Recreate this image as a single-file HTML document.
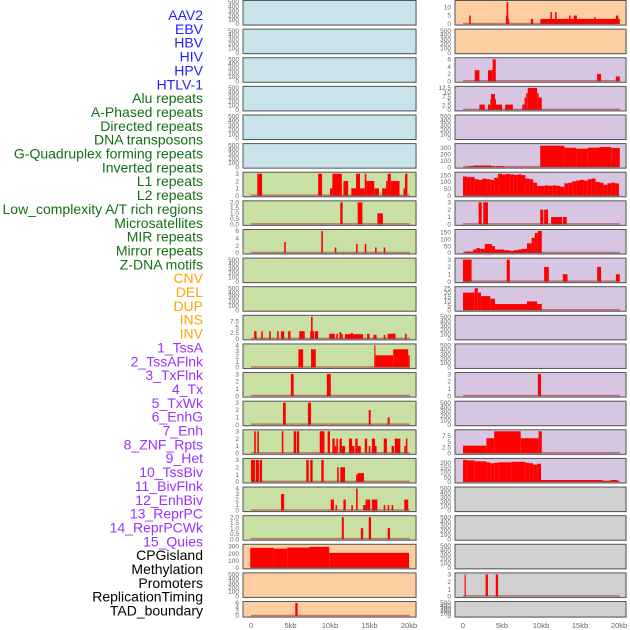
<!DOCTYPE html>
<html><head><meta charset="utf-8">
<style>
html,body{margin:0;padding:0;background:#fff;}
svg{display:block;font-family:"Liberation Sans",sans-serif;}
</style></head>
<body>
<svg id="chart" width="630" height="630" viewBox="0 0 630 630" xmlns="http://www.w3.org/2000/svg">
<g id="labels"></g>
<g id="panels"></g>
<g id="xaxes"></g>
</svg>
<script>
const rowLabels = ["AAV2","EBV","HBV","HIV","HPV","HTLV-1","Alu repeats","A-Phased repeats","Directed repeats","DNA transposons","G-Quadruplex forming repeats","Inverted repeats","L1 repeats","L2 repeats","Low_complexity A/T rich regions","Microsatellites","MIR repeats","Mirror repeats","Z-DNA motifs","CNV","DEL","DUP","INS","INV","1_TssA","2_TssAFlnk","3_TxFlnk","4_Tx","5_TxWk","6_EnhG","7_Enh","8_ZNF_Rpts","9_Het","10_TssBiv","11_BivFlnk","12_EnhBiv","13_ReprPC","14_ReprPCWk","15_Quies","CPGisland","Methylation","Promoters","ReplicationTiming","TAD_boundary"];
const labelGroups = [6,13,5,15,5];
const groupColors = ["#2020ff","#127012","#ffa500","#9b30ff","#000000"];
const xTickVals = [0,5,10,15,20];
const xTickLabels = ["0","5kb","10kb","15kb","20kb"];
const emptyTicks = [0,100,200,300,400,500];

// panel backgrounds per column
const col1Bg = ["b","b","b","b","b","b","g","g","g","g","g","g","g","g","g","g","g","g","g","o","o","o"];
const col2Bg = ["o","o","p","p","p","p","p","p","p","p","p","p","p","p","p","p","p","g2","g2","g2","g2","g2"];

// segments: [startKb, endKb, value]
const c1r6 = [[0.8,1.4,3],[8.5,9.0,3],[10,10.3,1],[10.3,11.5,3],[11.7,12.3,2],[12.7,13.3,1],[13.3,13.8,3],[13.8,14.4,1],[14.4,14.6,3],[14.6,15.6,2],[15.6,16.2,1],[16.6,17.1,1],[17.1,17.3,2],[17.3,17.7,3],[17.7,18.8,2],[19.3,19.5,1],[19.5,19.8,3]];
const c1r7 = [[11.3,11.6,2],[13.5,14.1,2],[16.0,16.7,1]];
const c1r8 = [[4.2,4.4,3],[8.9,9.1,6],[10.6,10.8,1.5],[13.3,13.5,2.5],[14.4,14.6,2.5],[15.7,15.9,1.5],[16.8,17.0,1.5]];
const c1r11 = [[0.4,0.7,3.3],[1.3,1.5,3.3],[2.3,2.5,3.3],[3.3,3.5,3.3],[3.8,4.2,3.3],[4.7,5.0,3.3],[6.1,6.8,3.3],[7.5,7.6,3.3],[7.6,7.8,9.5],[7.8,8.0,3.3],[8.1,8.5,3.3],[9.9,10.6,2.2],[10.8,11.0,2.2],[11.2,11.4,3],[11.4,11.6,2.2],[11.9,12.6,2],[12.6,12.9,2.5],[12.9,14.2,2],[14.7,15.0,2.2],[15.5,15.9,1.7],[16.8,17.0,1.7],[17.3,18.3,2.2],[19.5,19.7,2.2]];
const c1r12 = [[6.0,6.6,3.3],[7.6,8.2,3.3],[15.6,15.75,4],[15.75,18.0,2.2],[18.0,19.9,3.3],[19.9,20.1,2.2]];
const c1r13 = [[5.05,5.4,3],[9.6,10.1,3]];
const c1r14 = [[4.05,4.4,3],[7.2,7.6,3],[14.9,15.15,2],[17.3,17.55,1]];
const c1r15 = [[0.4,0.6,3],[0.8,1.0,3],[3.9,4.1,3],[5.4,5.7,3],[5.8,6.1,3],[8.7,9.3,3],[9.7,10.0,3],[10.3,10.6,2],[10.6,10.8,1],[10.8,11.0,2],[11.2,11.5,2],[11.5,11.9,1],[12.4,12.8,2],[12.8,13.1,1],[13.2,13.5,2],[13.5,13.9,1],[14.4,14.7,2],[14.9,15.1,1],[15.3,15.7,2],[15.7,15.9,1],[16.8,17.2,2],[17.8,18.1,1],[18.2,18.9,2],[19.4,19.6,1],[19.6,19.8,2]];
const c1r16 = [[0.0,0.5,3],[0.6,1.0,3],[1.1,1.4,3],[7.0,7.3,3],[7.5,7.8,3],[8.9,9.2,3],[10.9,11.1,2],[11.3,11.9,2],[13.3,13.5,1],[13.5,14.3,1.2]];
const c1r17 = [[3.8,4.2,3],[10.1,10.5,2],[10.7,10.9,1],[11.7,12.0,2],[12.7,12.9,1],[13.3,13.5,4],[14.2,14.5,1],[14.5,14.7,2],[14.7,15.1,2],[15.3,16.0,2],[16.8,17.0,1],[17.3,17.5,1],[17.8,18.0,1],[19.4,19.9,2]];
const c1r18 = [[11.5,11.75,2],[13.9,14.2,1],[14.9,15.2,2],[17.3,17.6,1]];
const c1r19 = [[-0.1,2.9,280],[2.9,4.6,270],[4.6,7.4,285],[7.4,9.9,295],[9.9,20.0,210]];
const c1r21 = [[5.6,5.9,6]];

const c2r0 = [[0.8,1.0,5],[5.5,5.6,5],[5.6,5.8,13],[5.8,5.9,3],[8.7,9.0,3],[9.9,20.1,3],[11.2,11.4,7],[11.8,12.0,7],[13.6,13.8,5],[14.2,14.6,5],[16.8,17.0,4],[19.6,19.9,5]];
const c2r2 = [[1.5,2.1,3],[3.2,3.8,3],[3.8,4.2,6],[17.2,17.7,2],[19.6,20.1,1.3]];
const c2r3 = [[2.1,2.8,3],[3.2,3.5,3],[3.5,3.6,6],[3.6,4.1,9],[4.1,4.2,6],[4.2,5.0,3],[5.4,6.4,3],[7.6,7.9,3],[7.9,8.1,7],[8.1,8.3,9.5],[8.3,9.5,12.5],[9.5,9.7,9.5],[9.7,10.1,7]];
const c2r5 = [[0.7,1.3,15],[1.3,3.6,25],[3.6,4.1,15],[4.3,5.3,15],[9.9,13.0,330],[13.0,14.5,300],[14.5,16.0,285],[16.0,17.5,300],[17.5,19.0,310],[19.0,20.1,295]];
const c2r6vals = [140,135,135,120,115,125,120,115,130,160,155,158,155,152,155,150,125,120,95,70,72,75,72,75,72,65,90,95,105,110,115,110,120,125,100,95,80,90,95,90];
const c2r7 = [[2.0,2.4,3],[2.6,3.2,3],[9.9,10.3,2],[10.4,10.9,2],[11.3,12.7,1],[12.8,13.3,1]];
const c2r8 = [[0.2,1.3,10],[1.3,1.7,25],[1.7,2.2,35],[2.2,2.8,30],[2.8,3.7,65],[3.7,4.1,50],[4.1,5.3,25],[5.3,6.0,20],[6.0,6.5,15],[6.5,7.0,20],[7.0,7.5,25],[7.5,8.2,30],[8.2,8.8,70],[8.8,9.2,110],[9.2,9.6,145],[9.6,10.1,160]];
const c2r9 = [[0.0,1.1,3],[5.6,6.0,3],[10.4,11.0,2],[12.8,13.4,1],[17.2,17.7,2],[19.6,20.1,1]];
const c2r10 = [[0.0,1.5,20],[1.5,1.9,25],[1.9,2.3,20],[2.3,3.5,16],[3.5,4.1,13],[4.1,8.2,7],[8.2,9.5,10],[9.5,10.1,7]];
const c2r13 = [[9.6,10.0,3]];
const c2r15 = [[0.0,3.0,3.3],[3.0,4.0,6.5],[4.0,7.4,9.5],[7.4,9.7,6.5],[9.7,10.1,9.5]];
const c2r16 = [[0,0.5,230],[0.5,1.5,225],[1.5,3.0,215],[3.0,3.5,205],[3.5,4.0,195],[4.0,4.5,200],[4.5,6.2,205],[6.2,8.0,210],[8.0,8.5,200],[8.5,9.0,195],[9.0,9.5,180],[9.5,10.0,190],[10.0,17.9,20],[17.9,18.9,12],[18.9,19.8,20],[19.8,20.0,8]];
const c2r20 = [[0.2,0.35,3],[2.9,3.2,3],[4.2,4.5,3]];

function binsToSegs(vals){ const s=[]; vals.forEach((v,i)=>s.push([i*0.5,i*0.5+0.5,v])); return s; }

// [segments, ymax, ticks]
const col1Data = {6:[c1r6,3,[0,1,2,3]],7:[c1r7,2,[0,0.5,1,1.5,2]],8:[c1r8,6,[0,2,4,6]],11:[c1r11,9.5,[0,2.5,5,7.5]],12:[c1r12,4,[0,1,2,3,4]],13:[c1r13,3,[0,1,2,3]],14:[c1r14,3,[0,1,2,3]],15:[c1r15,3,[0,1,2,3]],16:[c1r16,3,[0,1,2,3]],17:[c1r17,4,[0,1,2,3,4]],18:[c1r18,2,[0,0.5,1,1.5,2]],19:[c1r19,310,[0,100,200,300]],21:[c1r21,6,[0,2,4,6]]};
const col2Data = {0:[c2r0,13,[0,5,10]],2:[c2r2,6,[0,2,4,6]],3:[c2r3,12.5,[0,2.5,5,7.5,10,12.5]],5:[c2r5,340,[0,100,200,300]],6:[binsToSegs(c2r6vals),160,[0,50,100,150]],7:[c2r7,3,[0,1,2,3]],8:[c2r8,160,[0,50,100,150]],9:[c2r9,3,[0,1,2,3]],10:[c2r10,25,[0,5,10,15,20,25]],13:[c2r13,3,[0,1,2,3]],15:[c2r15,9.5,[0,2.5,5,7.5]],16:[c2r16,230,[0,50,100,150,200]],20:[c2r20,3,[0,1,2,3]]};

const NS="http://www.w3.org/2000/svg";
function mk(tag,attrs,parent){const e=document.createElementNS(NS,tag);for(const k in attrs)e.setAttribute(k,attrs[k]);parent.appendChild(e);return e;}
const bgColors={b:"#c9e3ea",g:"#c8e0a4",o:"#fdcfa0",p:"#d6c6e2",g2:"#d0d0d0"};
const cols=[{x0:243,x1:416,zero:251,ppk:7.9,tickX:239,bg:col1Bg,data:col1Data,name:"left"},{x0:455,x1:626,zero:463,ppk:7.8,tickX:451,bg:col2Bg,data:col2Data,name:"right"}];
function rowTop(i){return 0.5+i*28.62;}
function rowH(i){return i===21?15.5:24.5;}

// labels
const lg=document.getElementById("labels");
let gi=0,cnt=0;
rowLabels.forEach((t,i)=>{
  while(cnt>=labelGroups[gi]){gi++;cnt=0;}
  cnt++;
  const e=mk("text",{x:203,y:15+i*13.85+5,"text-anchor":"end","font-size":"14",fill:groupColors[gi]},lg);
  
  
  e.textContent=t;
});

const pg=document.getElementById("panels");
cols.forEach(c=>{
  const xs=kb=>c.zero+kb*c.ppk;
  for(let i=0;i<22;i++){
    const t=rowTop(i),h=rowH(i);
    const g=mk("g",{},pg);
    
    
    mk("rect",{x:c.x0+1,y:t+1,width:c.x1-c.x0,height:h,fill:"#e6e6e6"},g);
    const r=mk("rect",{x:c.x0,y:t,width:c.x1-c.x0,height:h,fill:bgColors[c.bg[i]],stroke:"#555","stroke-width":"1"},g);
    
    
    const d=c.data[i];
    const top=t+1.5,bot=t+h-1;
    const ticks=d?d[2]:emptyTicks, ymax=d?d[1]:500;
    const ys=v=>bot-(v/ymax)*(bot-top);
    ticks.forEach(v=>{
      const tt=mk("text",{x:c.tickX,y:ys(v)+2.2,"text-anchor":"end","font-size":"6.5",fill:"#666"},g);
      
      
      tt.textContent=String(v%1?v.toFixed(1):(ymax<=2.5?v.toFixed(1):v));
    });
    if(d){
      d[0].forEach(s=>{
        const b=mk("rect",{x:xs(s[0]),y:ys(s[2]),width:Math.max(1,xs(s[1])-xs(s[0])),height:bot-ys(s[2]),fill:"#ff0000"},g);
        
        
      });
      const bl=mk("line",{x1:xs(0),x2:xs(20.1),y1:bot-0.5,y2:bot-0.5,stroke:"rgba(170,40,40,0.55)","stroke-width":"1.5"},g);
      
      
    }
  }
  const xa=document.getElementById("xaxes");
  xTickVals.forEach((v,k)=>{
    const tx=mk("text",{x:xs(v),y:628,"text-anchor":"middle","font-size":"7.5",fill:"#666"},xa);
    
    
    tx.textContent=xTickLabels[k];
  });
});
</script>
</body></html>
